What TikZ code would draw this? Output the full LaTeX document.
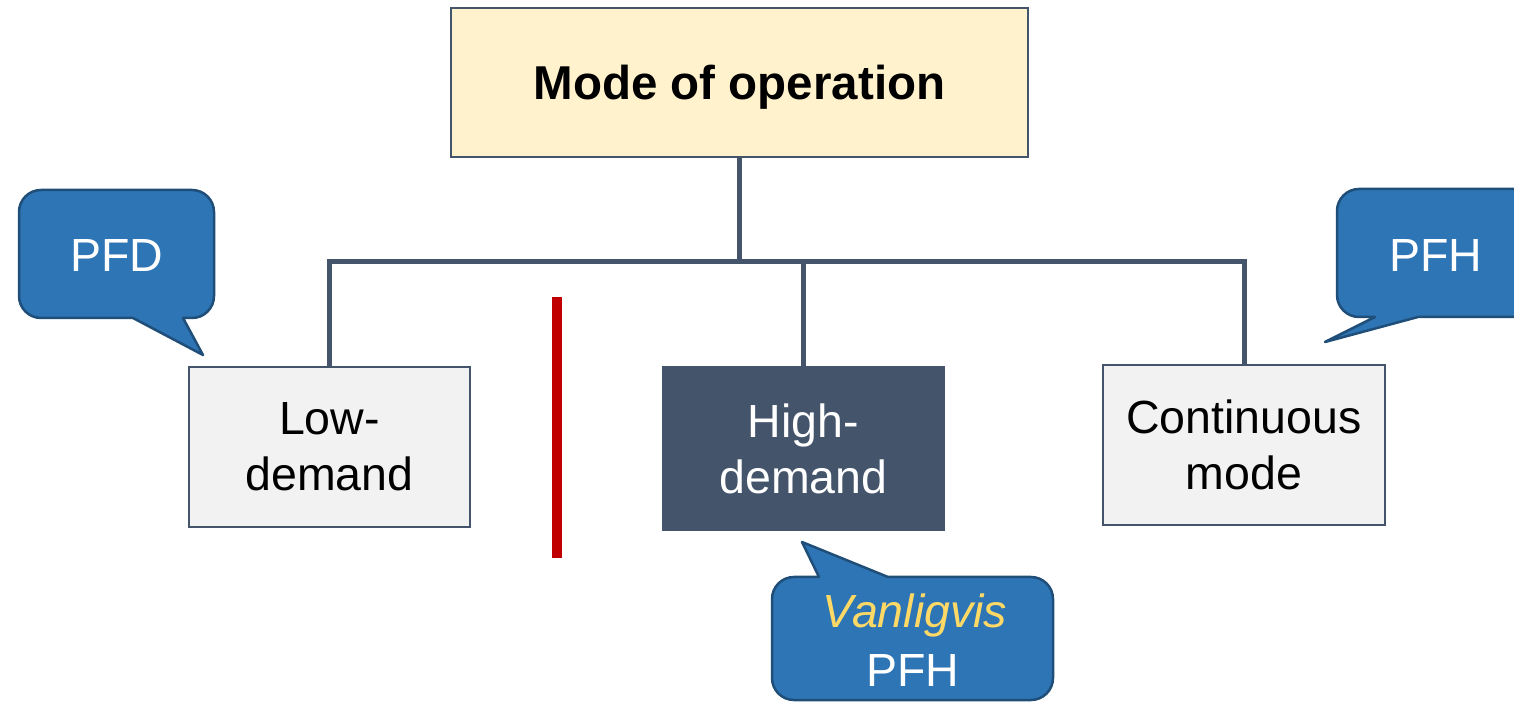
\documentclass[tikz,border=0pt]{standalone}
\usepackage{fontspec}
\setmainfont{Liberation Sans}
\definecolor{slate}{HTML}{44546A}
\definecolor{cream}{HTML}{FFF2CC}
\definecolor{lightg}{HTML}{F2F2F2}
\definecolor{callblue}{HTML}{2E75B6}
\definecolor{calledge}{HTML}{1F4E79}
\definecolor{warnred}{HTML}{C00000}
\definecolor{goldy}{HTML}{FFD966}
\tikzset{
  box/.style={draw=slate, line width=2.5pt, minimum width=281pt, inner sep=0pt, outer sep=0pt, align=center, font=\fontsize{46.5}{56}\selectfont},
  conn/.style={draw=slate, line width=5pt},
  callout/.style={fill=callblue, draw=calledge, line width=2.5pt, line join=round},
  calltext/.style={text=white, font=\fontsize{46.5}{56}\selectfont, inner sep=0pt}
}
\begin{document}
\begin{tikzpicture}[x=1pt,y=1pt]
\clip (0,0) rectangle (1514,701);
\fill[white] (0,0) rectangle (1514,701);
% boxes
\node[box, fill=cream, minimum width=577pt, minimum height=149pt, text depth=0pt, font=\fontsize{47.5}{56}\selectfont\bfseries] (top) at (739.5,618.5) {Mode of operation};
\node[box, fill=lightg, minimum height=160pt] (low) at (329.5,254) {Low-\\demand};
\node[box, fill=slate, text=white, minimum height=163pt] (high) at (803.5,252.5) {High-\\demand};
\node[box, fill=lightg, minimum width=282pt, minimum height=160pt] (cont) at (1244,256) {Continuous\\mode};
% connectors
\coordinate (j) at (739.5,439);
\draw[conn] (top.south) -- (j);
\draw[conn] (low.north) |- (j) -| (cont.north);
\draw[conn] (high.north) -- (high.north |- j);
% red divider
\draw[warnred, line width=10pt] (557,143) -- (557,404);
% PFD callout
\draw[callout] (41,511) -- (192,511) arc(90:0:22) -- (214,405) arc(0:-90:22) -- (183,383) -- (203,346) -- (133,383) -- (41,383) arc(-90:-180:22) -- (19,489) arc(180:90:22) -- cycle;
\node[calltext] (pfd) at (116.5,445) {PFD};
% PFH callout (right)
\draw[callout] (1540,512) -- (1540,384) -- (1418,384) -- (1325,359) -- (1375,384) -- (1359,384) arc(-90:-180:22) -- (1337,490) arc(180:90:22) -- cycle;
\node[calltext] (pfh) at (1436,445) {PFH};
% Vanligvis callout
\draw[callout] (772,102) arc(180:90:22) -- (819,124) -- (802,159) -- (888,124) -- (1031,124) arc(90:0:22) -- (1053,23) arc(0:-90:22) -- (794,1) arc(-90:-180:22) -- cycle;
\node[calltext, text=goldy, anchor=base, font=\fontsize{46.5}{56}\selectfont\itshape] (van) at (915,73) {Vanligvis};
\node[calltext, anchor=base] (pfh2) at (913,15) {PFH};
\end{tikzpicture}
\end{document}
